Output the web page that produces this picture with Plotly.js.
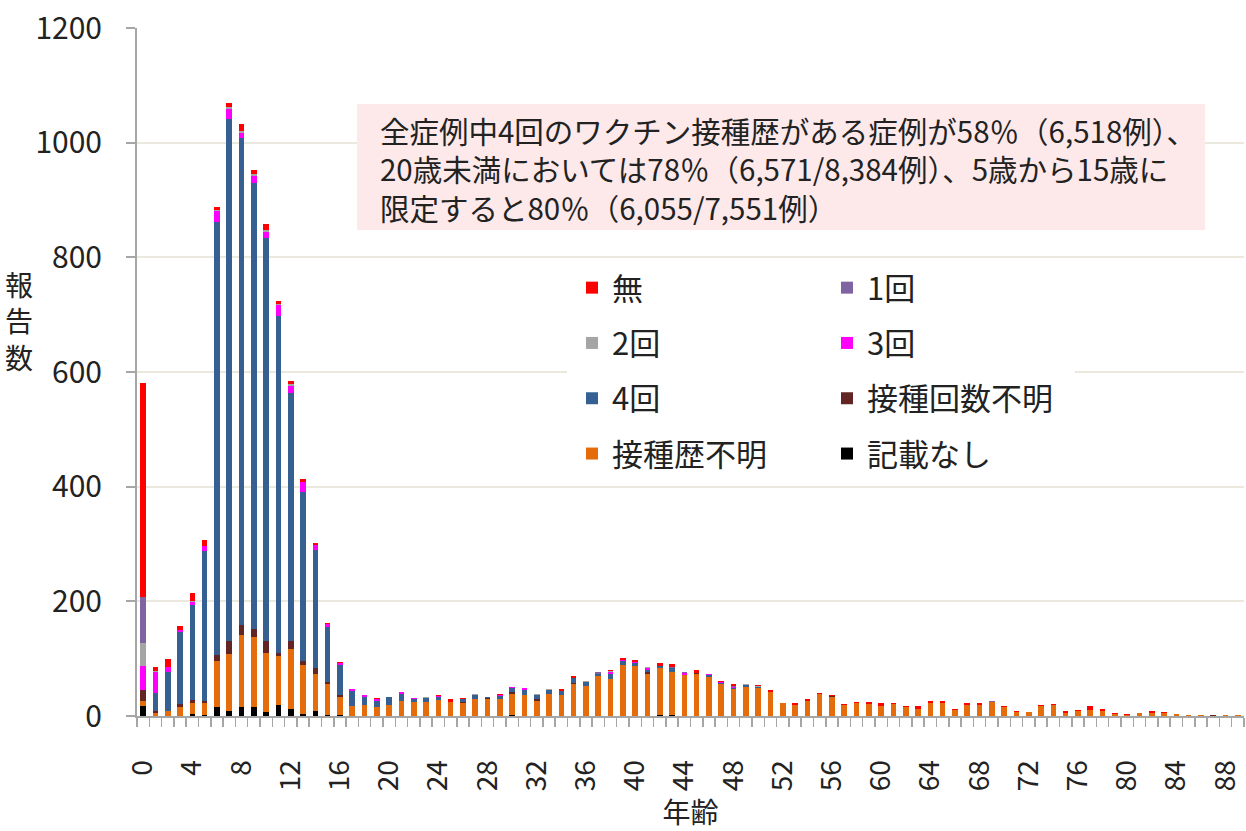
<!DOCTYPE html>
<html>
<head>
<meta charset="utf-8">
<script src="https://cdn.plot.ly/plotly-3.0.1.min.js"></script>
<style>html,body{margin:0;padding:0;background:#fff;}#chart{width:1246px;height:831px;}</style>
</head>
<body>
<div id="chart"></div>
<script>
// Categories: age in years
const ages = [0,1,2,3,4,5,6,7,8,9,10,11,12,13,14,15,16,17,18,19,20,21,22,23,24,25,26,27,28,29,30,31,32,33,34,35,36,37,38,39,40,41,42,43,44,45,46,47,48,49,50,51,52,53,54,55,56,57,58,59,60,61,62,63,64,65,66,67,68,69,70,71,72,73,74,75,76,77,78,79,80,81,82,83,84,85,86,87,88,89];

// Series values (reports per age), bottom of stack first
const kisaiNashi = [18,0,0,0,4,2,16,8,15,15, 7,19,13,4,9,2,1,0,0,0, 0,0,0,0,0,0,0,0,0,0, 2,0,0,0,0,0,0,0,0,0, 0,0,2,2,0,0,0,0,0,0, 0,0,0,0,0,0,0,0,0,0, 0,0,0,0,0,0,0,0,0,0, 0,0,0,0,0,0,0,0,0,0, 0,0,0,0,0,0,0,0,0,0];
const sesshuRekiFumei = [9,6,9,16,18,21,80,101,126,123, 103,86,103,85,64,54,33,18,19,16, 20,27,24,25,28,24,23,30,30,30, 36,37,27,39,37,55,53,70,64,89, 88,74,81,75,71,74,68,55,47,51, 48,42,22,19,26,38,33,20,23,21, 18,21,16,13,23,23,10,19,20,24, 16,7,7,17,20,6,9,10,9,3, 2,5,6,5,3,2,2,0,2,1];
const kaisuFumei = [19,3,0,5,6,3,11,22,17,13, 20,5,14,7,10,3,3,0,0,0, 0,0,0,0,0,0,2,0,2,0, 4,0,3,0,0,3,0,0,0,0, 0,3,0,0,1,1,0,1,0,0, 0,0,0,0,0,0,2,0,0,0, 0,0,0,0,0,0,0,0,0,0, 0,0,0,0,0,0,0,0,0,0, 0,0,0,0,0,0,0,1,0,0];
const kai4 = [0,31,68,126,165,261,754,910,851,778, 704,587,434,295,207,96,52,26,14,11, 13,12,5,7,6,0,4,6,2,5, 7,9,6,6,7,9,7,3,10,7, 5,4,4,6,0,0,4,2,2,3, 2,0,0,0,0,0,0,0,0,0, 0,0,0,0,0,0,0,0,0,0, 0,0,0,0,0,0,0,0,0,0, 0,0,0,0,0,0,0,0,0,0];
const kai3 = [41,36,8,3,5,9,19,17,8,13, 10,20,12,17,9,5,3,3,3,3, 0,2,2,0,1,0,1,0,0,1, 1,3,1,1,0,0,0,0,3,2, 1,3,1,1,3,0,1,1,2,0, 1,0,0,0,0,0,0,0,0,0, 0,0,0,0,0,0,0,0,0,0, 0,0,0,0,0,0,0,0,0,0, 0,0,0,0,0,0,0,0,0,0];
const kai2 = [40,2,0,0,2,0,3,5,4,3, 3,2,3,1,0,0,0,0,0,0, 0,0,0,1,0,0,0,2,0,0, 1,0,1,1,0,0,1,1,1,0, 1,1,0,0,0,0,0,0,0,1, 1,0,0,0,0,0,0,0,0,0, 0,0,0,0,0,0,0,0,0,0, 0,0,0,0,0,0,0,0,0,0, 0,0,0,0,0,0,0,0,0,0];
const kai1 = [81,0,0,0,0,0,0,0,0,0, 0,0,0,0,0,0,0,0,0,0, 0,0,0,0,0,0,0,0,0,0, 0,0,0,0,0,0,0,3,0,0, 0,0,0,1,2,0,0,0,2,0, 0,0,0,0,0,0,0,0,0,0, 0,0,0,0,0,0,0,0,0,2, 0,0,0,0,0,0,0,0,0,0, 0,0,0,0,0,0,0,0,0,0];
const nashi = [372,8,15,7,15,11,5,6,12,7, 11,5,6,4,2,3,2,0,0,1, 0,0,0,0,2,5,1,0,0,2, 0,0,0,0,3,3,0,0,2,3, 2,1,4,6,0,5,1,2,3,1, 2,3,1,4,4,2,2,1,1,3, 4,2,2,5,3,3,2,3,2,0, 2,2,0,2,1,3,2,7,3,2, 1,0,2,2,1,0,0,0,0,0];

const xTickVals = [0,4,8,12,16,20,24,28,32,36,40,44,48,52,56,60,64,68,72,76,80,84,88];
const xTickText = ['0','4','8','12','16','20','24','28','32','36','40','44','48','52','56','60','64','68','72','76','80','84','88'];
const yTickVals = [0,200,400,600,800,1000,1200];
const yTickText = ['0','200','400','600','800','1000','1200'];

const noteText = '全症例中4回のワクチン接種歴がある症例が58％（6,518例）、<br>20歳未満においては78％（6,571/8,384例）、5歳から15歳に<br>限定すると80％（6,055/7,551例）';

const FONT = '"Noto Sans CJK JP", "Noto Sans", sans-serif';

const series = [
  {name:'記載なし',     y:kisaiNashi,      color:'#000000', legend:'legend2', rank:4},
  {name:'接種歴不明',   y:sesshuRekiFumei, color:'#e46c0a', legend:'legend',  rank:4},
  {name:'接種回数不明', y:kaisuFumei,      color:'#632523', legend:'legend2', rank:3},
  {name:'4回',          y:kai4,            color:'#376092', legend:'legend',  rank:3},
  {name:'3回',          y:kai3,            color:'#ff00ff', legend:'legend2', rank:2},
  {name:'2回',          y:kai2,            color:'#a5a5a5', legend:'legend',  rank:2},
  {name:'1回',          y:kai1,            color:'#8064a2', legend:'legend2', rank:1},
  {name:'無',           y:nashi,           color:'#ff0000', legend:'legend',  rank:1}
];

const traces = series.map(s => ({
  type:'bar', x:ages, y:s.y, name:s.name,
  marker:{color:s.color, line:{width:0}},
  width:0.45,
  legend:s.legend, legendgroup:s.name, legendrank:s.rank,
  hoverinfo:'x+y+name'
}));

const pxX = v => (v - 137) / 1107;   // helper to convert page px to paper coords (layout only)
const pxY = v => (716 - v) / 688;

const legendCommon = {
  orientation:'v', traceorder:'grouped', tracegroupgap:12,
  bgcolor:'rgba(0,0,0,0)', borderwidth:0,
  font:{family:FONT, size:31, color:'#222'},
  xanchor:'left', yanchor:'top'
};

const layout = {
  width:1246, height:831,
  margin:{l:137, r:2, t:28, b:115},
  paper_bgcolor:'#ffffff', plot_bgcolor:'#ffffff',
  barmode:'stack',
  font:{family:FONT, color:'#222'},
  showlegend:true,
  legend:Object.assign({}, legendCommon, {x:pxX(572), y:pxY(261)}),
  legend2:Object.assign({}, legendCommon, {x:pxX(827), y:pxY(261)}),
  xaxis:{
    range:[-0.5, 89.5], tickmode:'array', tickvals:xTickVals, ticktext:xTickText,
    tickangle:-90, ticks:'', showgrid:false, zeroline:false,
    showline:true, linecolor:'#a6a6a6', linewidth:2,
    tickfont:{family:FONT, size:28, color:'#222'},
    ticklabelstandoff:31,
    minor:{ticks:'outside', ticklen:9, tickwidth:1.5, tickcolor:'#a6a6a6', tick0:-0.5, dtick:1, showgrid:false},
    title:{text:'年齢', font:{family:FONT, size:28, color:'#222'}, standoff:28}
  },
  yaxis:{
    range:[0,1200], tickmode:'array', tickvals:yTickVals, ticktext:yTickText,
    ticks:'outside', ticklen:9, tickwidth:2, tickcolor:'#a6a6a6',
    showline:true, linecolor:'#a6a6a6', linewidth:2,
    showgrid:true, gridcolor:'#ebe8dd', gridwidth:2, zeroline:false,
    tickfont:{family:FONT, size:30, color:'#222'},
    ticklabelstandoff:18
  },
  shapes:[
    {type:'rect', xref:'paper', yref:'paper', x0:pxX(357), x1:pxX(1205), y0:pxY(230), y1:pxY(104),
     fillcolor:'#fde9ea', line:{width:0}, layer:'above'},
    {type:'rect', xref:'paper', yref:'paper', x0:pxX(567), x1:pxX(1075), y0:pxY(482), y1:pxY(262),
     fillcolor:'#ffffff', line:{width:0}, layer:'above'}
  ],
  annotations:[
    {xref:'paper', yref:'paper', x:pxX(378), y:pxY(107), xanchor:'left', yanchor:'top',
     text:noteText, align:'left', showarrow:false,
     font:{family:FONT, size:29.5, color:'#222'}},
    {xref:'paper', yref:'paper', x:pxX(19), y:pxY(320), xanchor:'center', yanchor:'middle',
     text:'報<br>告<br>数', align:'center', showarrow:false,
     font:{family:FONT, size:28, color:'#222'}}
  ],
  bargap:0.55
};

Plotly.newPlot('chart', traces, layout, {displayModeBar:false, staticPlot:true});
</script>
</body>
</html>
